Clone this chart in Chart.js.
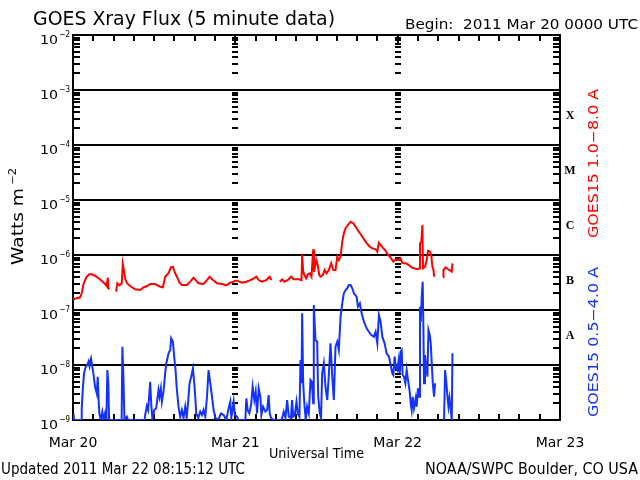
<!DOCTYPE html>
<html>
<head>
<meta charset="utf-8">
<script src="https://cdn.jsdelivr.net/npm/chart.js@4.4.0/dist/chart.umd.min.js"></script>
<style>
  html, body { margin: 0; padding: 0; background: #fff; }
  #wrap { width: 640px; height: 480px; }
</style>
</head>
<body>
<div id="wrap"><canvas id="xray" width="640" height="480"></canvas></div>
<script>
// GOES15 long channel (1.0-8.0 A), hours since 2011 Mar 20 00:00 UTC, W/m^2 (null = data gap)
const redHours = [
  0, 0.54, 1.04, 1.29, 1.53, 1.78, 2.03, 2.41, 2.77, 3.26,
  3.75, 4.25, 4.74, 4.99, 5.14, 5.23, 5.38, 5.9, 6.37, 6.56,
  6.89, 7.21, 7.36, 7.56, 7.7, 8.0, 8.44, 9.19, 9.93, 10.41,
  10.96, 11.41, 12.15, 12.89, 13.29, 13.63, 14.12, 14.47, 14.77, 15.01,
  15.36, 15.75, 16.1, 16.84, 17.33, 17.82, 18.15, 18.56, 19.3, 19.81,
  20.19, 20.7, 21.29, 22.03, 22.67, 23.26, 23.75, 24.0, 24.25, 24.99,
  25.63, 26.22, 26.71, 27.11, 27.45, 27.96, 28.59, 29.08, 29.33, 30.0,
  30.56, 30.92, 31.26, 31.75, 32.25, 32.64, 33.38, 33.78, 33.88, 34.03,
  34.22, 34.47, 34.74, 35.01, 35.26, 35.51, 35.63, 35.97, 36.18, 36.41,
  36.59, 36.96, 37.19, 37.48, 37.82, 38.18, 38.47, 38.81, 39.07, 39.3,
  39.56, 39.81, 40.04, 40.3, 40.64, 41.04, 41.44, 41.78, 42.27, 42.77,
  43.26, 43.75, 44.25, 44.74, 44.99, 45.23, 45.48, 45.88, 46.22, 46.47,
  46.86, 47.36, 47.7, 48.19, 48.44, 48.7, 49.19, 49.67, 50.03, 50.41,
  50.92, 51.21, 51.3, 51.51, 51.66, 51.75, 52.04, 52.3, 52.49, 52.79,
  52.99, 53.14, 53.29, 53.38, 53.53, 54.1, 54.71, 54.77, 55.11, 55.45,
  55.85, 56.0, 56.1
];
const redFlux = [
  1.57e-7, 1.63e-7, 1.7e-7, 2.01e-7, 2.85e-7, 3.5e-7, 4.03e-7, 4.46e-7, 4.46e-7, 4.2e-7,
  3.77e-7, 3.41e-7, 2.97e-7, 2.73e-7, 3.87e-7, 2.48e-7, 2.38e-7, null, 2.15e-7, 3.06e-7,
  2.8e-7, 3.06e-7, 6.86e-7, 4.97e-7, 3.77e-7, 3.06e-7, 2.73e-7, 2.38e-7, 2.31e-7, 2.57e-7,
  2.73e-7, 2.97e-7, 2.97e-7, 2.65e-7, 2.59e-7, 4.03e-7, 4.65e-7, 5.97e-7, 6.12e-7, 4.97e-7,
  4.03e-7, 3.13e-7, 2.85e-7, 2.85e-7, 3.27e-7, 3.87e-7, 3.5e-7, 3.06e-7, 2.97e-7, 3.5e-7,
  4.03e-7, 3.5e-7, 3.06e-7, 2.97e-7, 2.81e-7, 3.13e-7, 3.27e-7, 3.4e-7, 3.41e-7, 3.13e-7,
  3.27e-7, 3.5e-7, 3.77e-7, 4.03e-7, 3.5e-7, 3.27e-7, 3.5e-7, 4.03e-7, 3.5e-7, null,
  3.27e-7, 3.61e-7, 3.27e-7, 3.5e-7, 4.03e-7, 3.61e-7, 3.61e-7, 3.5e-7, 1.03e-6, 4.97e-7,
  4.33e-7, 3.77e-7, 4.5e-7, 4.65e-7, 4.03e-7, 1.27e-6, 4.9e-7, 8.1e-7, 6.58e-7, 4.33e-7,
  4.03e-7, 4.33e-7, 5.34e-7, 4.65e-7, 5.34e-7, 7.06e-7, 5.34e-7, 5.34e-7, 9.3e-7, 8.1e-7,
  9.3e-7, 1.75e-6, 2.48e-6, 3.06e-6, 3.51e-6, 4.03e-6, 3.77e-6, 3.27e-6, 2.65e-6, 2.15e-6,
  1.75e-6, 1.46e-6, 1.32e-6, 1.27e-6, 1.15e-6, 1.67e-6, 1.52e-6, 1.32e-6, 1.2e-6, 1.04e-6,
  9.3e-7, 7.55e-7, 8.35e-7, 8.1e-7, 8.7e-7, 7.06e-7, 7.06e-7, 6.58e-7, 5.97e-7, 5.73e-7,
  5.5e-7, 5.73e-7, 1.63e-6, 1.75e-6, 3.51e-6, 5.73e-7, 6.12e-7, 8.1e-7, 1.2e-6, 1.15e-6,
  9.3e-7, 6.12e-7, 5.34e-7, 4.2e-7, 4.2e-7, null, 3.93e-7, 5.34e-7, 5.97e-7, 5.5e-7,
  5.13e-7, 4.97e-7, 7.06e-7
];

// GOES15 short channel (0.5-4.0 A)
const blueHours = [
  0, 0.07, 0.15, 1.19, 1.29, 1.44, 1.63, 1.88, 2.12, 2.3,
  2.44, 2.52, 2.67, 2.81, 3.01, 3.26, 3.51, 3.66, 3.81, 3.9,
  4.1, 4.34, 4.52, 4.74, 4.93, 5.08, 5.23, 5.33, 7.19, 7.3,
  7.45, 7.6, 7.96, 8.15, 10.59, 10.67, 10.92, 11.11, 11.41, 11.56,
  11.75, 12.0, 12.3, 12.64, 12.79, 12.99, 13.14, 13.38, 13.63, 13.78,
  13.97, 14.12, 14.37, 14.52, 14.77, 14.96, 15.16, 15.36, 15.6, 15.85,
  16.1, 16.34, 16.59, 16.81, 17.08, 17.23, 17.48, 17.73, 17.93, 18.07,
  18.22, 18.52, 18.81, 19.07, 19.3, 19.56, 19.81, 20.04, 20.3, 20.55,
  20.79, 21.04, 21.48, 21.88, 22.27, 22.67, 23.01, 23.26, 23.41, 23.75,
  23.93, 24.25, 24.44, 25.48, 25.63, 25.82, 26.07, 26.33, 26.56, 26.81,
  27.01, 27.21, 27.45, 27.7, 27.85, 28.1, 28.44, 28.7, 28.93, 29.08,
  29.29, 29.63, 30.81, 30.92, 31.16, 31.41, 31.66, 31.9, 32.22, 32.4,
  32.55, 32.79, 33.04, 33.23, 33.48, 33.63, 33.78, 33.88, 34.03, 34.22,
  34.41, 34.61, 34.86, 35.11, 35.3, 35.51, 35.6, 35.85, 36.1, 36.25,
  36.49, 36.67, 36.84, 37.08, 37.33, 37.59, 37.82, 38.07, 38.33, 38.56,
  38.81, 39.07, 39.3, 39.56, 39.81, 40.04, 40.3, 40.55, 40.79, 41.04,
  41.29, 41.53, 41.93, 42.12, 42.41, 42.67, 43.01, 43.41, 43.75, 44.1,
  44.49, 44.74, 44.99, 45.23, 45.48, 45.73, 46.07, 46.37, 46.71, 46.96,
  47.21, 47.36, 47.56, 47.7, 47.96, 48.15, 48.3, 48.44, 48.59, 48.74,
  48.93, 49.14, 49.33, 49.53, 49.78, 49.93, 50.07, 50.22, 50.41, 50.67,
  50.81, 51.0, 51.16, 51.3, 51.41, 51.56, 51.7, 51.81, 51.9, 52.04,
  52.22, 52.4, 52.55, 52.74, 52.89, 53.04, 53.19, 53.38, 53.53, 54.2,
  54.86, 55.01, 55.21, 55.36, 55.51, 55.66, 55.85, 56.0, 56.1
];
const blueFlux = [
  1e-9, 1.32e-9, 1e-9, 1e-9, 1.63e-9, 3.51e-9, 7.06e-9, 9.3e-9, 1e-8, 1.15e-8,
  9.6e-9, 1.15e-8, 1.32e-8, 1e-8, 7.06e-9, 4.03e-9, 3.06e-9, 6.13e-9, 2.01e-9, 1.32e-9,
  1e-9, 1.42e-9, 1e-9, 1.32e-9, 1e-9, 8.1e-9, 4.65e-9, 1e-9, 1e-9, 2.15e-8,
  6.13e-9, 1e-9, 1.15e-9, 1e-9, 1e-9, 1.23e-9, 1.8e-9, 1.52e-9, 4.97e-9, 2.01e-9,
  1e-9, 1.52e-9, 1.63e-9, 3.51e-9, 2.65e-9, 3.77e-9, 2.15e-9, 3.27e-9, 7.06e-9, 1.07e-8,
  1.32e-8, 1.63e-8, 1.87e-8, 3.06e-8, 2.65e-8, 1.42e-8, 8.1e-9, 3.51e-9, 1.75e-9, 1.15e-9,
  1.52e-9, 1.09e-9, 1.75e-9, 1.09e-9, 2.65e-9, 4.65e-9, 6.13e-9, 8.7e-9, 4.65e-9, 2.65e-9,
  1.32e-9, 1.09e-9, 1.42e-9, 1.23e-9, 1.52e-9, 1.15e-9, 2.65e-9, 8.1e-9, 4.65e-9, 2.65e-9,
  1.52e-9, 1.09e-9, 1e-9, 1.32e-9, 1.23e-9, 1e-9, 1.63e-9, 2.15e-9, 1.09e-9, 2.15e-9,
  1.23e-9, 1.15e-9, 1e-9, 1e-9, 2.48e-9, 1.52e-9, 1.32e-9, 1.87e-9, 4.03e-9, 2.31e-9,
  3.27e-9, 1.32e-9, 3.77e-9, 2.65e-9, 1.23e-9, 1.75e-9, 1.42e-9, 1.52e-9, 2.85e-9, 1.32e-9,
  1.09e-9, 1e-9, 1e-9, 1.09e-9, 1.42e-9, 1.09e-9, 2.31e-9, 1.15e-9, 1.09e-9, 2.31e-9,
  1.15e-9, 1.23e-9, 2.15e-9, 1.32e-9, 1.15e-9, 1.23e-8, 4.65e-9, 8.7e-8, 4.65e-9, 1.87e-9,
  1e-9, 1.75e-9, 1.32e-9, 5.34e-9, 4.97e-9, 2.01e-9, 1.23e-7, 2.85e-8, 2.65e-8, 2.65e-9,
  1.32e-9, 1.09e-9, 7.06e-9, 1.07e-8, 4.03e-9, 2.31e-9, 6.58e-9, 2.48e-8, 6.13e-9, 2.31e-9,
  2.15e-8, 2.65e-8, 1.87e-8, 7.55e-8, 1.32e-7, 2.01e-7, 2.31e-7, 2.48e-7, 2.85e-7, 2.85e-7,
  2.48e-7, 2.01e-7, 1.75e-7, 1.15e-7, 1.32e-7, 8.7e-8, 6.13e-8, 4.65e-8, 4.03e-8, 3.51e-8,
  3.27e-8, 4.03e-8, 2.48e-8, 8.1e-8, 6.13e-8, 3.27e-8, 2.48e-8, 1.63e-8, 1.42e-8, 1e-8,
  7.06e-9, 6.58e-9, 1.42e-8, 9.3e-9, 8.1e-9, 1.23e-8, 7.06e-9, 1.75e-8, 1.87e-8, 6.58e-9,
  6.13e-9, 4.65e-9, 8.1e-9, 5.34e-9, 3.27e-9, 2.01e-9, 1.52e-9, 2.65e-9, 1.63e-9, 2.48e-9,
  1.75e-9, 3.77e-9, 2.65e-9, 1.15e-7, 6.13e-8, 1.75e-7, 3.27e-7, 4.33e-8, 4.65e-9, 1.52e-8,
  9.3e-9, 6.13e-9, 4.33e-8, 3.51e-8, 2.48e-8, 1.07e-8, 4.65e-9, 2.65e-9, 4.65e-9, null,
  1e-9, 8.1e-9, 4.65e-9, 2.65e-9, 1.75e-9, 2.48e-9, 1.52e-9, 1e-9, 1.63e-8
];

// axes
const dayHours = [0, 24, 48, 72];
const dayLabels = ['Mar 20', 'Mar 21', 'Mar 22', 'Mar 23'];
const decadeTicks = [1e-9, 1e-8, 1e-7, 1e-6, 1e-5, 1e-4, 1e-3, 1e-2];
const decadeExps = ['\u22129', '\u22128', '\u22127', '\u22126', '\u22125', '\u22124', '\u22123', '\u22122'];
const classLetters = ['A', 'B', 'C', 'M', 'X'];
const classBase = [1e-8, 1e-7, 1e-6, 1e-5, 1e-4];

const FONT = '"DejaVu Sans"';

function toPoints(hours, flux) {
  return hours.map((h, i) => ({ x: h, y: flux[i] }));
}

// draw text stretched to a given width (the original uses a wide plotter font)
function fitText(ctx, text, x, y, width, font) {
  ctx.font = font;
  const w = ctx.measureText(text).width;
  ctx.save();
  ctx.translate(x, y);
  ctx.scale(width / w, 1);
  ctx.textAlign = 'left';
  ctx.textBaseline = 'alphabetic';
  ctx.fillText(text, 0, 0);
  ctx.restore();
}

function seg(ctx, x1, y1, x2, y2) {
  ctx.beginPath();
  ctx.moveTo(x1, y1);
  ctx.lineTo(x2, y2);
  ctx.stroke();
}

const goesFrame = {
  id: 'goesFrame',
  beforeDraw(chart) {
    const ctx = chart.ctx;
    ctx.save();
    ctx.fillStyle = '#fff';
    ctx.fillRect(0, 0, chart.width, chart.height);
    ctx.restore();
  },
  beforeDatasetsDraw(chart) {
    const { ctx, chartArea: a, scales: { x, y } } = chart;
    ctx.save();
    ctx.strokeStyle = '#000';
    ctx.lineWidth = 2;
    ctx.lineCap = 'butt';

    // decade lines
    decadeTicks.forEach(v => {
      const py = Math.round(y.getPixelForValue(v));
      seg(ctx, a.left, py, a.right, py);
    });

    // minor log ticks: left, right and along the day boundaries
    const dayPx = dayHours.slice(1, 3).map(h => Math.round(x.getPixelForValue(h)));
    decadeTicks.slice(0, -1).forEach(d => {
      for (let m = 2; m <= 9; m++) {
        const py = Math.round(y.getPixelForValue(m * d));
        seg(ctx, a.left, py, a.left + 7, py);
        seg(ctx, a.right - 7, py, a.right, py);
        dayPx.forEach(px => seg(ctx, px - 3, py, px + 3, py));
      }
    });

    // time ticks every 3 hours, top and bottom
    for (let h = 3; h < 72; h += 3) {
      const px = Math.round(x.getPixelForValue(h));
      const len = h % 24 === 0 ? 8 : 6;
      seg(ctx, px, a.top, px, a.top + len);
      seg(ctx, px, a.bottom - len, px, a.bottom);
    }

    ctx.strokeRect(a.left, a.top, a.right - a.left, a.bottom - a.top);
    ctx.restore();
  },
  afterDraw(chart) {
    const { ctx, chartArea: a, scales: { y } } = chart;
    ctx.save();
    ctx.fillStyle = '#000';

    fitText(ctx, 'GOES Xray Flux (5 minute data)', 33, 25, 302, '19px ' + FONT);
    fitText(ctx, 'Begin:  2011 Mar 20 0000 UTC', 405, 29, 233, '14px ' + FONT);
    fitText(ctx, 'Universal Time', 269, 458, 95, '14px ' + FONT);
    fitText(ctx, 'Updated 2011 Mar 22 08:15:12 UTC', 1, 474, 244, '15px ' + FONT);
    fitText(ctx, 'NOAA/SWPC Boulder, CO USA', 425, 474, 213, '15px ' + FONT);

    // decade labels 10^n
    decadeTicks.forEach((v, i) => {
      const py = Math.round(y.getPixelForValue(v));
      fitText(ctx, '10', 40, py + 9, 18, '12px ' + FONT);
      fitText(ctx, decadeExps[i], 59.5, py + 2, 10.5, '9px ' + FONT);
    });

    // y axis title
    ctx.save();
    ctx.translate(23, 265);
    ctx.rotate(-Math.PI / 2);
    fitText(ctx, 'Watts m', 0, 0, 77, '15px ' + FONT);
    fitText(ctx, '\u22122', 80, -7, 17, '10px ' + FONT);
    ctx.restore();

    // flare classes
    ctx.font = 'bold 12px "Liberation Serif"';
    ctx.textAlign = 'center';
    ctx.textBaseline = 'middle';
    classLetters.forEach((c, i) => {
      ctx.fillText(c, a.right + 10, y.getPixelForValue(classBase[i] * 3.4));
    });

    // channel labels
    ctx.save();
    ctx.translate(598, 238);
    ctx.rotate(-Math.PI / 2);
    ctx.fillStyle = '#ff0000';
    fitText(ctx, 'GOES15 1.0\u22128.0 A', 0, 0, 149, '14px ' + FONT);
    ctx.restore();
    ctx.save();
    ctx.translate(598, 417);
    ctx.rotate(-Math.PI / 2);
    ctx.fillStyle = '#1432ff';
    fitText(ctx, 'GOES15 0.5\u22124.0 A', 0, 0, 150, '14px ' + FONT);
    ctx.restore();

    ctx.restore();
  }
};

new Chart(document.getElementById('xray'), {
  type: 'line',
  data: {
    datasets: [
      {
        label: 'GOES15 1.0-8.0 A',
        data: toPoints(redHours, redFlux),
        borderColor: '#ff0000',
        borderWidth: 2,
        pointRadius: 0,
        tension: 0,
        spanGaps: false,
        fill: false
      },
      {
        label: 'GOES15 0.5-4.0 A',
        data: toPoints(blueHours, blueFlux),
        borderColor: '#1432ff',
        borderWidth: 2,
        pointRadius: 0,
        tension: 0,
        spanGaps: false,
        fill: false
      }
    ]
  },
  options: {
    responsive: false,
    animation: false,
    layout: { padding: { top: 35, right: 80, left: 0, bottom: 0 } },
    plugins: { legend: { display: false }, title: { display: false }, tooltip: { enabled: false } },
    scales: {
      x: {
        type: 'linear',
        min: 0,
        max: 72,
        afterBuildTicks: s => { s.ticks = dayHours.map(v => ({ value: v })); },
        afterFit: s => { s.height = 60; },
        grid: { display: false },
        border: { display: false },
        ticks: {
          autoSkip: false,
          maxRotation: 0,
          padding: 7,
          color: '#000',
          font: { family: 'DejaVu Sans', size: 14 },
          callback: (v, i) => dayLabels[i]
        }
      },
      y: {
        type: 'logarithmic',
        min: 1e-9,
        max: 1e-2,
        afterFit: s => { s.width = 73; },
        grid: { display: false },
        border: { display: false },
        ticks: { display: false }
      }
    }
  },
  plugins: [goesFrame]
});
</script>
</body>
</html>
